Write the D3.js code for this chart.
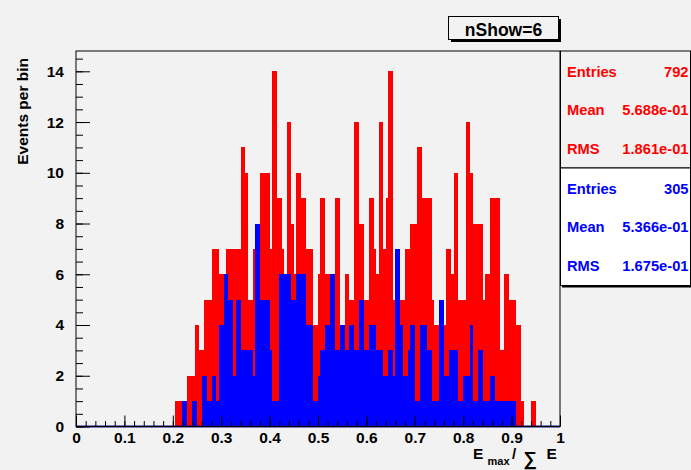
<!DOCTYPE html>
<html><head><meta charset="utf-8">
<script src="https://cdn.jsdelivr.net/npm/d3@7"></script>
<style>
html,body{margin:0;padding:0;background:#f2f2f2;}
svg{display:block;}
text{font-family:"Liberation Sans",Arial,Helvetica,sans-serif;font-weight:bold;}
</style>
</head><body>
<svg id="c" width="691" height="470"></svg>
<script>
// ---------------- data ----------------
const binWidth = 0.005;        // histogram bin width
const firstBinLow = 0.200;     // low edge of the first listed bin
const redCounts = [0,
 1,1,1, 1,1, 2,2,2, 4,4, 3,3, 5,5,5, 7,7,7, 6,6,6, 7,7, 7,7,7,7, 11,11, 10, 5,5, 7, 8,8,
 10,10,10,10, 7, 14,14, 9,9, 7, 6, 12,12, 8, 6, 10,10, 9,9, 7,7,7, 4,4, 6, 9,9, 6,6,6,6,
 9,9, 4,4, 6,6, 5,5, 12,12, 8,8, 5,5, 9,9, 7, 6, 12,12, 7, 9, 14,14, 5, 7,7, 5,5, 7,7,
 8,8,8, 11,11, 9,9,9,9, 5, 4,4, 5,5, 4, 7,7, 6, 10,10, 5,5,5, 12,12, 10, 8,8,8,8, 5, 6,6,
 9,9,9,9, 3,3, 6,6, 5,5,5, 4,4, 1, 0,0,0, 1,1];
const blueCounts = [0,0,0,0,
 1,1, 0,0, 1,1, 0,0, 2,2, 1,1, 2,2, 1, 4,4, 6,6, 5,5, 2, 5,5, 3,3,3,3,3, 2, 8,8,
 5,5,5,5, 3, 1,1,1, 6,6,6,6,6, 5,5, 6,6,6,6, 4,4,4, 1,1, 2, 3,3, 4,4, 6,6, 3,3, 4,4,
 3,3, 4,4, 3,3, 5,5, 3,3, 4,4,4, 3,3,3, 2,2, 3,3, 2, 7,7, 4, 2,2, 3, 4,4, 1,1, 4,4,4,
 3,3, 1,1,1, 5,5, 2,2, 3,3,3,3, 1,1, 2,2,2, 4, 1,1, 3,3, 1,1,1, 2,2,
 1,1,1,1,1,1,1,1,1, 0,0,0,0,0,0,0,0];
const xTickValues = [0,0.1,0.2,0.3,0.4,0.5,0.6,0.7,0.8,0.9,1];
const xTickLabels = ["0","0.1","0.2","0.3","0.4","0.5","0.6","0.7","0.8","0.9","1"];
const yTickValues = [0,2,4,6,8,10,12,14];
const yTickLabels = ["0","2","4","6","8","10","12","14"];
const redStats  = [["Entries","792"],["Mean","5.688e-01"],["RMS","1.861e-01"]];
const blueStats = [["Entries","305"],["Mean","5.366e-01"],["RMS","1.675e-01"]];
const titleText = "nShow=6";
const yTitle = "Events per bin";

// ---------------- drawing ----------------
const RED = "#ff0000", BLUE = "#0000ff", BG = "#f2f2f2";
const FONT = '"Liberation Sans",Arial,Helvetica,sans-serif';
const svg = d3.select("#c");
svg.append("rect").attr("width",691).attr("height",470).attr("fill",BG);

const fx0 = 76, fx1 = 560, fy0 = 426.5, fy1 = 51;
const x = d3.scaleLinear().domain([0,1]).range([fx0,fx1]);
const y = d3.scaleLinear().domain([0,14.8]).range([fy0,fy1]);

function drawHist(counts, color){
  const bins = counts.map((c,i)=>({lo:firstBinLow+i*binWidth, c}));
  svg.append("g").attr("shape-rendering","crispEdges")
    .selectAll("rect").data(bins.filter(b=>b.c>0)).join("rect")
    .attr("x",d=>x(d.lo)).attr("width",d=>x(d.lo+binWidth)-x(d.lo))
    .attr("y",d=>y(d.c)).attr("height",d=>y(0)-y(d.c))
    .attr("fill",color);
}
drawHist(redCounts, RED);
drawHist(blueCounts, BLUE);

// zero-level outline
svg.append("line").attr("x1",x(0)).attr("x2",x(1)).attr("y1",y(0)).attr("y2",y(0))
  .attr("stroke","#101080").attr("stroke-width",2);

// frame
svg.append("rect").attr("x",fx0).attr("y",fy1).attr("width",fx1-fx0).attr("height",fy0-fy1)
  .attr("fill","none").attr("stroke","#000").attr("stroke-width",1);

function styleAxis(g){
  g.select(".domain").remove();
  g.selectAll("line").attr("stroke","#000");
  g.selectAll("text").attr("fill","#000").attr("font-family",FONT)
    .attr("font-weight","bold").attr("font-size","15.5px");
}
// x axis
const gxMinor = svg.append("g").attr("transform",`translate(0,${y(0)})`)
  .call(d3.axisBottom(x).tickValues(d3.range(0,1.0001,0.02)).tickSize(-5.5).tickFormat(""));
styleAxis(gxMinor);
const gx = svg.append("g").attr("transform",`translate(0,${y(0)})`)
  .call(d3.axisBottom(x).tickValues(xTickValues).tickFormat((d,i)=>xTickLabels[i]).tickSize(-11).tickPadding(5.5));
styleAxis(gx);
// y axis
const gyMinor = svg.append("g").attr("transform",`translate(${x(0)},0)`)
  .call(d3.axisLeft(y).tickValues(d3.range(0,14.51,0.5)).tickSize(-7).tickFormat(""));
styleAxis(gyMinor);
const gy = svg.append("g").attr("transform",`translate(${x(0)},0)`)
  .call(d3.axisLeft(y).tickValues(yTickValues).tickFormat((d,i)=>yTickLabels[i]).tickSize(-14).tickPadding(12));
styleAxis(gy);

// y title
svg.append("text").attr("transform","translate(28,58) rotate(-90)")
  .attr("text-anchor","end").attr("font-size","15.5px").text(yTitle);

// x title: E_max / sum E
const xt = svg.append("g");
xt.append("text").attr("x",473).attr("y",459).attr("font-size","15.5px").text("E");
xt.append("text").attr("x",487.5).attr("y",465).attr("font-size","11px").text("max");
xt.append("text").attr("x",512).attr("y",459).attr("font-size","15px").attr("font-weight","normal").text("/");
xt.append("text").attr("x",523.5).attr("y",465).attr("font-size","19px")
  .attr("font-family","DejaVu Sans").attr("font-weight","normal").text("\u2211");
xt.append("text").attr("x",546.5).attr("y",459).attr("font-size","15.5px").text("E");

// title box
svg.append("rect").attr("x",451).attr("y",19).attr("width",110).attr("height",23).attr("fill","#000");
svg.append("rect").attr("x",448.5).attr("y",16.5).attr("width",110).attr("height",23)
  .attr("fill",BG).attr("stroke","#000").attr("stroke-width",1);
svg.append("text").attr("x",503.5).attr("y",35.5).attr("text-anchor","middle")
  .attr("font-size","17.5px").text(titleText);

// stats boxes
function statsBox(stats, top, h, fill, color){
  svg.append("rect").attr("x",562).attr("y",top+2).attr("width",130).attr("height",h).attr("fill","#000");
  svg.append("rect").attr("x",560.5).attr("y",top).attr("width",130).attr("height",h)
    .attr("fill",fill).attr("stroke","#000").attr("stroke-width",1);
  stats.forEach((s,i)=>{
    const by = top + 25.7 + i*38.6;
    svg.append("text").attr("x",567).attr("y",by).attr("fill",color).attr("font-size","14.7px").text(s[0]);
    svg.append("text").attr("x",688.5).attr("y",by).attr("fill",color).attr("font-size","14.7px")
      .attr("text-anchor","end").text(s[1]);
  });
}
statsBox(redStats, 51, 117, BG, RED);
statsBox(blueStats, 168, 117.5, "#ffffff", BLUE);
</script>
</body></html>
